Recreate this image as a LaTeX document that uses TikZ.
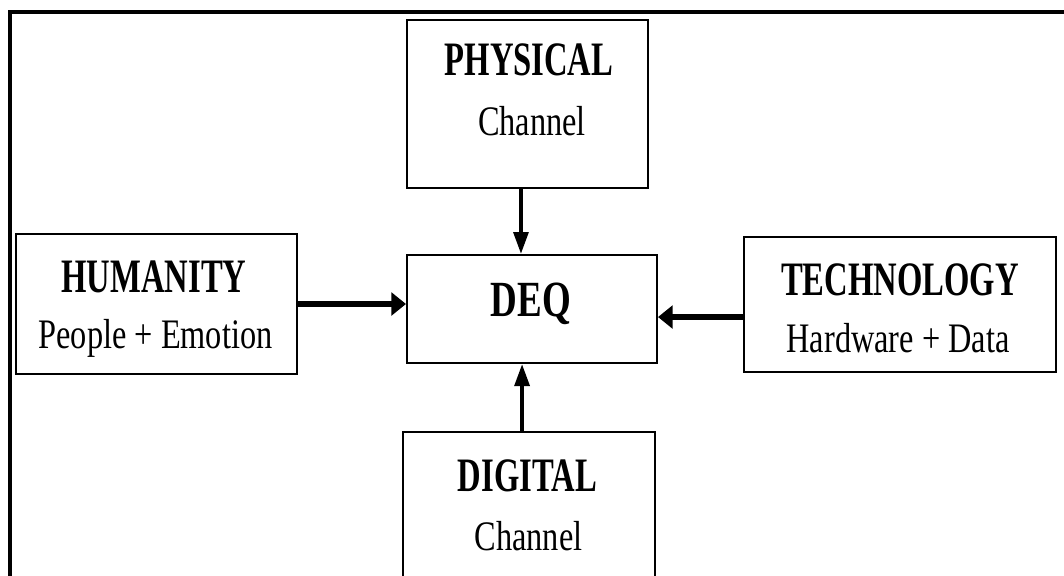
\documentclass[tikz,border=0pt]{standalone}
\usepackage{fontspec}
\setmainfont{Liberation Serif}
\usetikzlibrary{arrows.meta}
\usetikzlibrary{positioning}

\newcommand{\headtxt}[1]{\scalebox{0.68}[1]{\textbf{#1}}}
\newcommand{\linetxt}[1]{\scalebox{0.77}[1]{#1}}

\tikzset{box/.style={draw, line width=1.5pt, inner sep=0pt},
 title/.style={font=\fontsize{36}{40}\selectfont, anchor=base, inner sep=0pt},
 subline/.style={font=\fontsize{31.5}{36}\selectfont, anchor=base, inner sep=0pt},
 vline/.style={line width=3pt, -{Triangle[length=16.5pt, width=11pt]}},
 hline/.style={line width=4.5pt, -{Triangle[length=11pt, width=17pt]}},
 }

\begin{document}
\begin{tikzpicture}[x=0.75pt, y=-0.75pt]
        \useasboundingbox (0,0) rectangle (1064,575);
        \clip (0,0) rectangle (1064,575);

        % frame
        \draw[line width=3pt] (1070,12) -- (10,12) -- (10,580);

        % boxes
        \node[box, minimum width=180.75pt, minimum height=126pt] (phys) at (527.5,104) {};
        \node[box, minimum width=187.5pt, minimum height=81pt] (deq) at (532,309) {};
        \node[box, minimum width=210.75pt, minimum height=105pt] (hum) at (156.5,304) {};
        \node[box, minimum width=234pt, minimum height=101.25pt] (tech) at (900,304.5) {};
        \node[box, minimum width=189pt, minimum height=141pt] (digi) at (529,526) {};

        % texts
        \node[title] (physT) at (529,75) {\headtxt{PHYSICAL}};
        \node[subline] (physS) at (532,135) {\linetxt{Channel}};
        \node[title] (humT) at (154,292) {\headtxt{HUMANITY}};
        \node[subline] (humS) at (155.5,348) {\linetxt{People + Emotion}};
        \node[title] (techT) at (900,295) {\headtxt{TECHNOLOGY}};
        \node[subline] (techS) at (898,352) {\linetxt{Hardware + Data}};
        \node[title] (digiT) at (527.5,491) {\headtxt{DIGITAL}};
        \node[subline] (digiS) at (528.5,550) {\linetxt{Channel}};
        \node[title, font=\fontsize{38}{40}\selectfont] (deqT) at (531,316) {\scalebox{0.73}[1]{\textbf{DEQ}}};

        % arrows
        \draw[vline] ([xshift=-4.9pt]phys.south) -- ([xshift=-4.9pt]phys.south |- deq.north);
        \draw[vline] ([xshift=-5.2pt]digi.north) -- ([xshift=-5.2pt]digi.north |- deq.south);
        \draw[hline] (hum.east) -- (hum.east -| deq.west);
        \draw[hline] ([yshift=-9.4pt]tech.west) -- ([yshift=-9.4pt]tech.west -| deq.east);
    \end{tikzpicture}
\end{document}
